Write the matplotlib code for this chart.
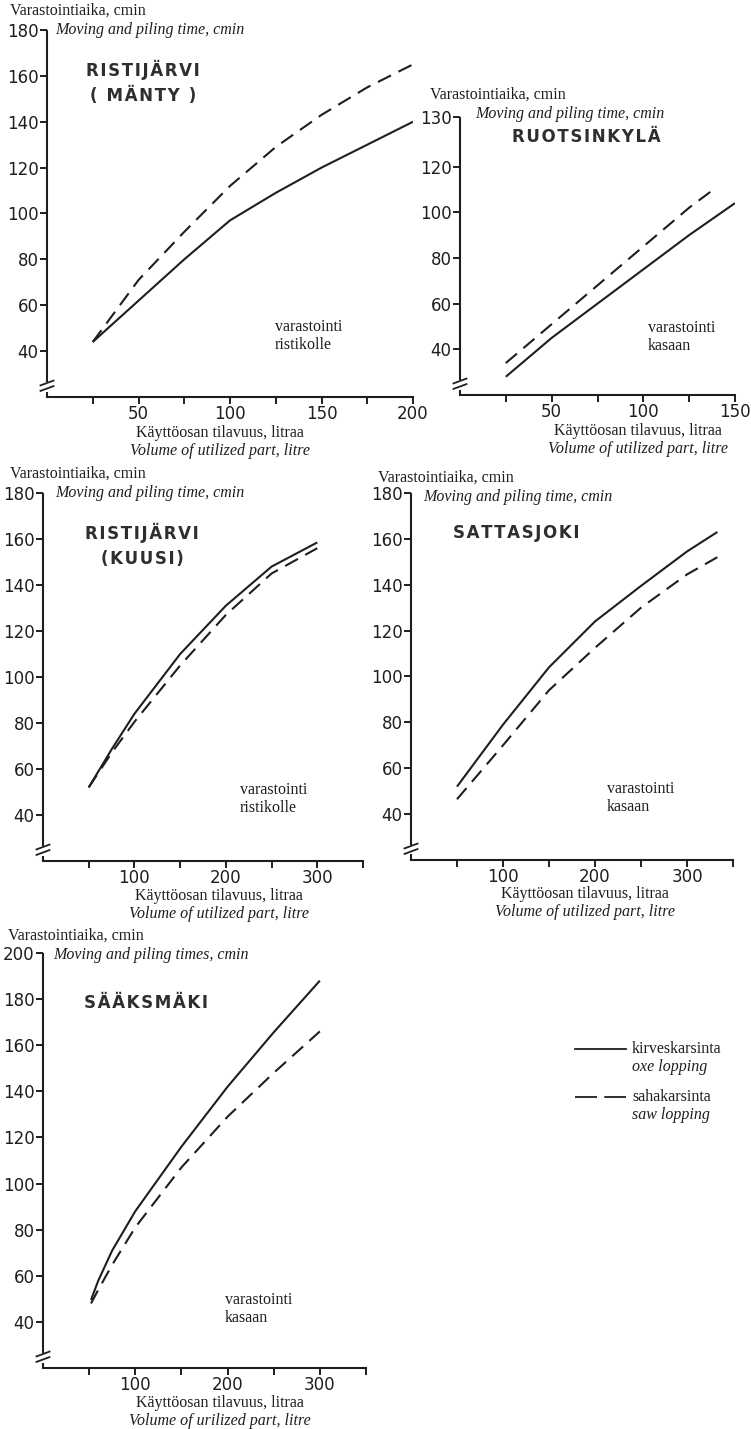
import matplotlib
matplotlib.use("Agg")
import matplotlib.pyplot as plt
from matplotlib.lines import Line2D

# ---------------- data ----------------
# Panel 1: Ristijärvi (mänty), varastointi ristikolle
x1 = [25, 50, 75, 100, 125, 150, 175, 200]
solid1 = [44, 62, 80, 97, 109, 120, 130, 140]
dash1 = [44, 71, 92, 112, 129, 143, 155, 165]

# Panel 2: Ruotsinkylä, varastointi kasaan
x2s = [25, 50, 75, 100, 125, 150]
solid2 = [28, 45, 60, 75, 90, 104]
x2d = [25, 50, 75, 100, 125, 140]
dash2 = [34, 51, 68, 85, 102, 111]

# Panel 3: Ristijärvi (kuusi), varastointi ristikolle
x3 = [50, 75, 100, 150, 200, 250, 300]
solid3 = [52, 68.5, 84, 110, 131, 148, 158.5]
dash3 = [52, 67, 80.5, 105, 127, 145, 156]

# Panel 4: Sattasjoki, varastointi kasaan
x4 = [50, 100, 150, 200, 250, 300, 333]
solid4 = [52, 79, 104, 124, 139.5, 154.5, 163]
dash4 = [46.5, 70, 94, 112.5, 130, 144.5, 152]

# Panel 5: Sääksmäki, varastointi kasaan
x5 = [52, 60, 75, 100, 150, 200, 250, 300]
solid5 = [49.5, 58, 71, 88, 116, 142, 165.6, 188]
dash5 = [48, 54, 64.8, 81, 107, 129, 148, 166]

# tick labels
xt1 = [25, 50, 75, 100, 125, 150, 175, 200]
xl1 = ["", "50", "", "100", "", "150", "", "200"]
xt2 = [25, 50, 75, 100, 125, 150]
xl2 = ["", "50", "", "100", "", "150"]
xt3 = [50, 100, 150, 200, 250, 300, 350]
xl3 = ["", "100", "", "200", "", "300", ""]
yt180 = [40, 60, 80, 100, 120, 140, 160, 180]
yt2 = [40, 60, 80, 100, 120, 141.7]
yl2 = ["40", "60", "80", "100", "120", "130"]
yt200 = [40, 60, 80, 100, 120, 140, 160, 180, 200]

# ---------------- layout ----------------
W, H = 751, 1429
fig = plt.figure(figsize=(W / 100, H / 100), dpi=100)
fig.patch.set_facecolor("white")

INK = "#1e1e1e"
SERIF = "Liberation Serif"
SANS = "DejaVu Sans"
LW = 1.5
DASH = (0, (7, 4))
FS = 11.5


def make_ax(left, top, right, bottom):
    ax = fig.add_axes([left / W, 1 - bottom / H, (right - left) / W, (bottom - top) / H])
    ax.set_facecolor("none")
    return ax, (right - left), (bottom - top)


def style(ax, pw, ph, xlim, ylim, xt, xl, yt, yl=None):
    ax.set_xlim(*xlim)
    ax.set_ylim(*ylim)
    for s in ("top", "right"):
        ax.spines[s].set_visible(False)
    ax.spines["left"].set_visible(False)
    ax.spines["bottom"].set_linewidth(LW)
    ax.spines["bottom"].set_color(INK)
    ax.set_xticks(xt)
    ax.set_xticklabels(xl)
    ax.set_yticks(yt)
    ax.set_yticklabels(yl if yl is not None else [str(v) for v in yt])
    ax.tick_params(axis="both", direction="out", length=5, width=1.4, color=INK,
                   labelcolor=INK, labelsize=12)
    for lab in ax.get_xticklabels() + ax.get_yticklabels():
        lab.set_fontfamily(SANS)
    ax.tick_params(axis="y", pad=1)
    ax.tick_params(axis="x", pad=0.5)
    # left spine with break marks (drawn in axes fraction)
    up = 15.0 / ph
    low = 5.5 / ph
    ax.plot([0, 0], [up, 1], transform=ax.transAxes, color=INK, lw=LW,
            clip_on=False, solid_capstyle="butt")
    ax.plot([0, 0], [0, low], transform=ax.transAxes, color=INK, lw=LW,
            clip_on=False, solid_capstyle="butt")
    dx = 6.5 / pw
    dy = 2.4 / ph
    for c in (14.0 / ph, 8.5 / ph):
        ax.plot([-dx, dx], [c - dy, c + dy], transform=ax.transAxes, color=INK,
                lw=1.3, clip_on=False)


def curves(ax, xs, ys, xd, yd):
    ax.plot(xs, ys, color=INK, lw=LW, solid_capstyle="butt", solid_joinstyle="round")
    ax.plot(xd, yd, color=INK, lw=LW, linestyle=DASH)


def ftext(x, y, s, **kw):
    kw.setdefault("color", INK)
    kw.setdefault("va", "center")
    fig.text(x / W, 1 - y / H, s, **kw)


def spaced(s):
    return "\u200a".join(s)


def panel_texts(xv, yv, movtxt, title_lines, title_x, title_y, note, nx, ny,
                xlab_cx, xlab_y, voltxt="Volume of utilized part, litre"):
    ftext(xv, yv, "Varastointiaika, cmin", family=SERIF, fontsize=FS)
    ftext(xv + 45, yv + 19, movtxt, family=SERIF, style="italic", fontsize=FS)
    for i, t in enumerate(title_lines):
        ftext(title_x, title_y + i * 26, spaced(t), family=SANS, fontweight="bold",
              fontsize=12, ha="center", color="#2e2e2e")
    ftext(nx, ny, note[0], family=SERIF, fontsize=FS)
    ftext(nx, ny + 18, note[1], family=SERIF, fontsize=FS)
    ftext(xlab_cx, xlab_y, "Käyttöosan tilavuus, litraa", family=SERIF,
          fontsize=FS, ha="center")
    ftext(xlab_cx, xlab_y + 18, voltxt, family=SERIF, style="italic",
          fontsize=FS, ha="center")


# Panel 1
ax1, pw, ph = make_ax(47, 30, 413, 397)
style(ax1, pw, ph, (0, 200), (20, 180), xt1, xl1, yt180)
curves(ax1, x1, solid1, x1, dash1)
panel_texts(10, 11, "Moving and piling time, cmin", ["RISTIJÄRVI", "( MÄNTY )"],
            143, 70, ("varastointi", "ristikolle"), 275, 327, 220, 433)

# Panel 2
ax2, pw, ph = make_ax(460, 117, 735, 395)
style(ax2, pw, ph, (0, 150), (20, 141.7), xt2, xl2, yt2, yl2)
curves(ax2, x2s, solid2, x2d, dash2)
panel_texts(430, 95, "Moving and piling time, cmin", ["RUOTSINKYLÄ"],
            586, 137, ("varastointi", "kasaan"), 648, 328, 638, 431)

# Panel 3
ax3, pw, ph = make_ax(43, 493, 363, 861)
style(ax3, pw, ph, (0, 350), (20, 180), xt3, xl3, yt180)
curves(ax3, x3, solid3, x3, dash3)
panel_texts(10, 474, "Moving and piling time, cmin", ["RISTIJÄRVI", "(KUUSI)"],
            142, 533, ("varastointi", "ristikolle"), 240, 790, 219, 896)

# Panel 4
ax4, pw, ph = make_ax(411, 493, 733, 860)
style(ax4, pw, ph, (0, 350), (20, 180), xt3, xl3, yt180)
curves(ax4, x4, solid4, x4, dash4)
panel_texts(378, 478, "Moving and piling time, cmin", ["SATTASJOKI"],
            516, 533, ("varastointi", "kasaan"), 607, 789, 585, 894)

# Panel 5
ax5, pw, ph = make_ax(43, 953, 366, 1368)
style(ax5, pw, ph, (0, 350), (20, 200), xt3, xl3, yt200)
curves(ax5, x5, solid5, x5, dash5)
panel_texts(8, 936, "Moving and piling times, cmin", ["SÄÄKSMÄKI"],
            146, 1003, ("varastointi", "kasaan"), 225, 1300, 220, 1403,
            voltxt="Volume of urilized part, litre")

# Legend
fig.add_artist(Line2D([575 / W, 626 / W], [1 - 1049 / H, 1 - 1049 / H], color=INK, lw=1.3))
fig.add_artist(Line2D([575 / W, 626 / W], [1 - 1097 / H, 1 - 1097 / H], color=INK, lw=1.3,
                      linestyle=(0, (12.2, 4))))
ftext(632, 1049, "kirveskarsinta", family=SERIF, fontsize=FS)
ftext(632, 1067, "oxe lopping", family=SERIF, style="italic", fontsize=FS)
ftext(632, 1097, "sahakarsinta", family=SERIF, fontsize=FS)
ftext(632, 1115, "saw lopping", family=SERIF, style="italic", fontsize=FS)

fig.savefig("out.png", dpi=100, facecolor="white")
